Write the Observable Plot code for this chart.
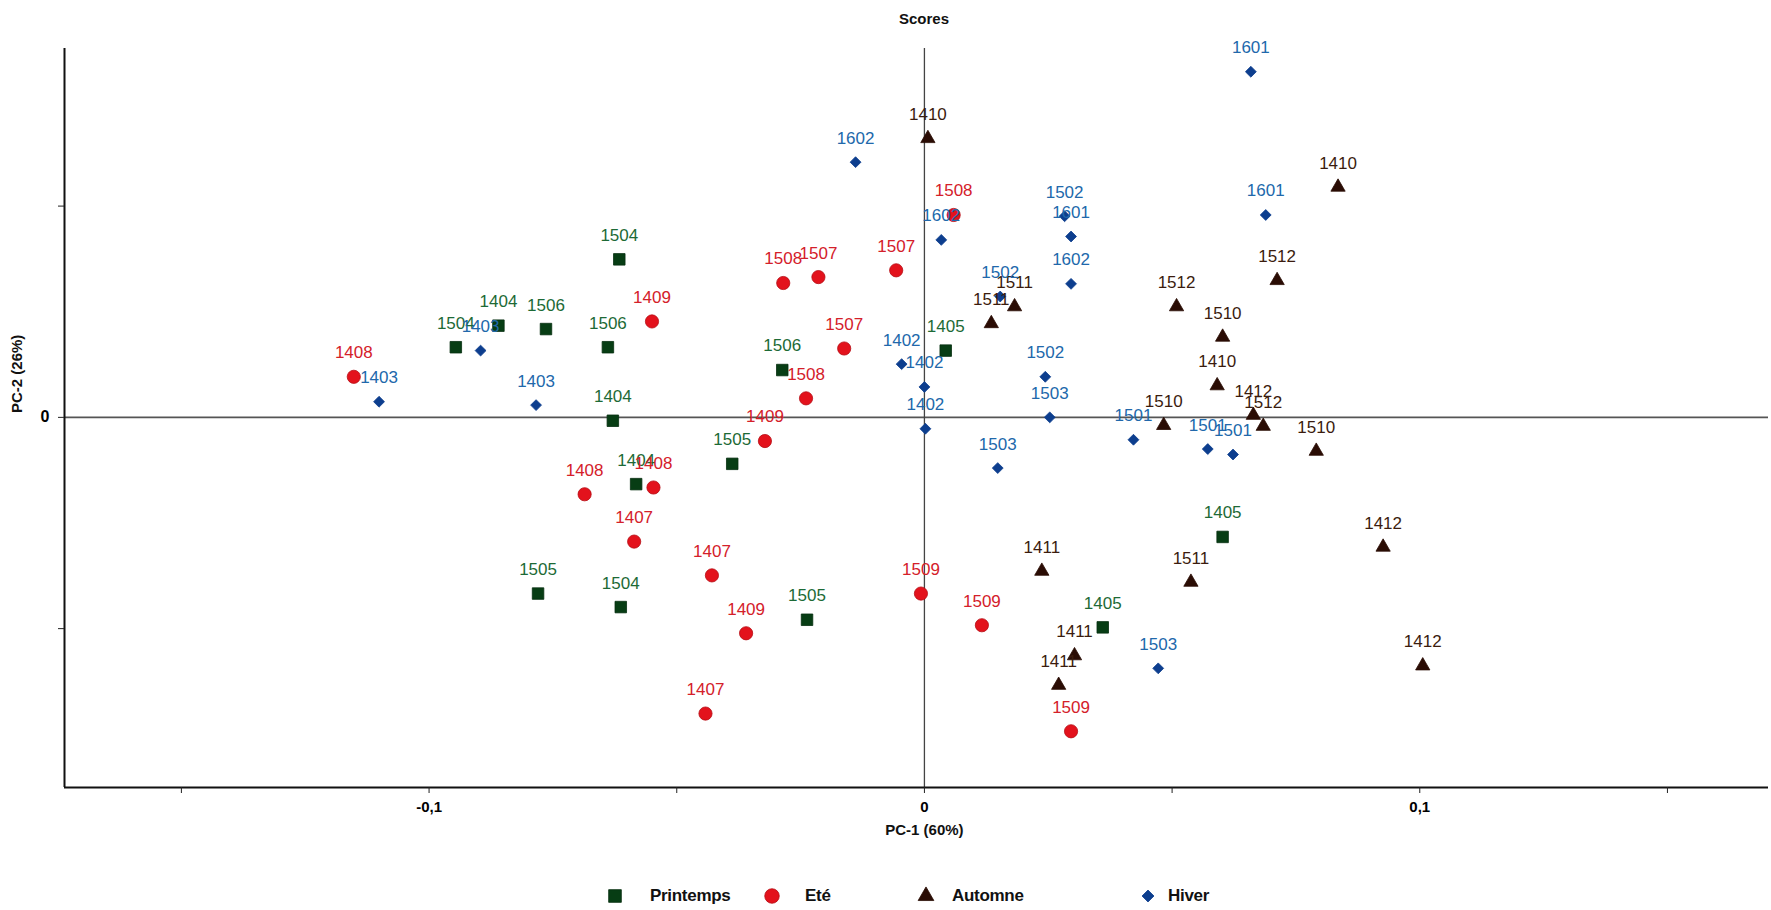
<!DOCTYPE html>
<html>
<head>
<meta charset="utf-8">
<script src="https://cdn.jsdelivr.net/npm/d3@7"></script>
<script src="https://cdn.jsdelivr.net/npm/@observablehq/plot@0.6"></script>
<style>
  body { margin: 0; background: #fff; font-family: "Liberation Sans", Arial, sans-serif; }
  #wrap { position: relative; width: 1771px; height: 910px; overflow: hidden; }
  #title { position: absolute; left: 824px; top: 0; width: 200px; height: 38px; line-height: 38px;
           text-align: center; font-weight: bold; font-size: 15px; color: #111; }
  #chart { position: absolute; left: 0; top: 38px; }
  .leg { position: absolute; font-size: 17px; font-weight: bold; color: #111; line-height: 20px; letter-spacing: -0.3px; }
  .sw { position: absolute; }
  #chart g[aria-label="x-axis tick label"] text,
  #chart g[aria-label="y-axis tick label"] text { font-weight: bold; }
</style>
</head>
<body>
<div id="wrap">
  <div id="title">Scores</div>
  <div id="chart"></div>
  <div id="legend"></div>
</div>
<script>
// ---- data ----
const seasons = ["Printemps", "Eté", "Automne", "Hiver"];

const printempsLabels = ["1504","1404","1506","1504","1506","1404","1404","1505","1504","1505","1506","1505","1405","1405","1405"];
const printempsX = [-0.0946,-0.0860,-0.0764,-0.0616,-0.0639,-0.0629,-0.0582,-0.0780,-0.0613,-0.0388,-0.0287,-0.0237,0.0043,0.0602,0.0360];
const printempsY = [0.0166,0.0217,0.0209,0.0374,0.0166,-0.0008,-0.0158,-0.0417,-0.0449,-0.0110,0.0112,-0.0479,0.0158,-0.0283,-0.0497];

const eteLabels = ["1407","1407","1407","1408","1408","1408","1409","1409","1409","1507","1507","1507","1508","1508","1508","1509","1509","1509"];
const eteX = [-0.0586,-0.0429,-0.0442,-0.1152,-0.0686,-0.0547,-0.0550,-0.0322,-0.0360,-0.0214,-0.0162,-0.0057,-0.0285,-0.0239,0.0059,-0.0007,0.0116,0.0296];
const eteY = [-0.0294,-0.0374,-0.0701,0.0096,-0.0182,-0.0166,0.0227,-0.0056,-0.0511,0.0332,0.0163,0.0348,0.0318,0.0045,0.0479,-0.0417,-0.0492,-0.0743];

const automneLabels = ["1410","1410","1410","1411","1411","1411","1412","1412","1412","1510","1510","1510","1511","1511","1511","1512","1512","1512"];
const automneX = [0.0007,0.0835,0.0591,0.0237,0.0303,0.0271,0.0926,0.1006,0.0664,0.0483,0.0602,0.0791,0.0135,0.0182,0.0538,0.0509,0.0712,0.0684];
const automneY = [0.0660,0.0545,0.0075,-0.0364,-0.0564,-0.0634,-0.0307,-0.0588,0.0005,-0.0019,0.0190,-0.0080,0.0222,0.0262,-0.0390,0.0262,0.0324,-0.0021];

const hiverLabels = ["1402","1402","1402","1403","1403","1403","1501","1501","1501","1502","1502","1502","1503","1503","1503","1601","1601","1601","1602","1602","1602"];
const hiverX = [-0.0046,0.0000,0.0002,-0.1101,-0.0784,-0.0896,0.0422,0.0572,0.0623,0.0283,0.0153,0.0244,0.0253,0.0148,0.0472,0.0659,0.0296,0.0689,-0.0139,0.0034,0.0296];
const hiverY = [0.0126,0.0072,-0.0027,0.0037,0.0029,0.0158,-0.0053,-0.0075,-0.0088,0.0476,0.0286,0.0096,0.0000,-0.0120,-0.0594,0.0818,0.0428,0.0479,0.0604,0.0420,0.0316];

const xTicks = [-0.15, -0.1, -0.05, 0, 0.05, 0.1, 0.15];
const xTickLabels = ["", "-0,1", "", "0", "", "0,1", ""];
const yTicks = [-0.05, 0, 0.05];
const yTickLabels = ["", "0", ""];
const xTitle = "PC-1 (60%)";
const yTitle = "PC-2 (26%)";

// ---- styles ----
const style = {
  "Printemps": {symbol: "square",   r: 6.5, fill: "#073d14", stroke: "#062e10", label: "#1d6a36"},
  "Eté":       {symbol: "circle",   r: 6.6, fill: "#e3121c", stroke: "#b50d14", label: "#d4202a"},
  "Automne":   {symbol: "triangle", r: 5.3, fill: "#2a0c04", stroke: "#2a0c04", label: "#3b1c0e"},
  "Hiver":     {symbol: "diamond2", r: 4.9, fill: "#0d3e8e", stroke: "#0d3e8e", label: "#2168ab"}
};

const build = (labels, xs, ys, season) => labels.map((l, i) => ({label: l, x: xs[i], y: ys[i], season}));
const groups = [
  build(printempsLabels, printempsX, printempsY, "Printemps"),
  build(eteLabels, eteX, eteY, "Eté"),
  build(automneLabels, automneX, automneY, "Automne"),
  build(hiverLabels, hiverX, hiverY, "Hiver")
];

const xDomain = [-0.1736, 0.1704];
const yDomain = [-0.0876, 0.0873];

const marks = [
  Plot.ruleY([0], {stroke: "#555", strokeWidth: 1.6}),
  Plot.ruleX([0], {stroke: "#444", strokeWidth: 1.3}),
  Plot.ruleX([xDomain[0]], {stroke: "#111", strokeWidth: 2}),
  Plot.ruleY([yDomain[0]], {stroke: "#111", strokeWidth: 2}),
  Plot.axisX({ticks: xTicks, tickFormat: d => xTickLabels[xTicks.indexOf(d)], tickSize: 6, tickPadding: 8,
              fontSize: 15, label: null, stroke: "#222"}),
  Plot.axisY({ticks: yTicks, tickFormat: d => yTickLabels[yTicks.indexOf(d)], tickSize: 6, tickPadding: 9,
              fontSize: 16, label: null, stroke: "#222"}),
  Plot.text([0], {x: d => d, frameAnchor: "bottom", dy: 47, text: () => xTitle, fontSize: 15, fontWeight: "bold", fill: "#111"}),
  Plot.text([yTitle], {frameAnchor: "left", dx: -47, dy: -5, rotate: -90, text: d => d, fontSize: 15, fontWeight: "bold", fill: "#111"})
];
groups.forEach(g => {
  const s = style[g[0].season];
  marks.push(Plot.dot(g, {x: "x", y: "y", symbol: () => s.symbol, r: s.r, fill: s.fill, stroke: s.stroke, strokeWidth: 0.8}));
});
groups.forEach(g => {
  const s = style[g[0].season];
  marks.push(Plot.text(g, {x: "x", y: "y", text: "label", dy: -24, fill: s.label, fontSize: 17}));
});

const chart = Plot.plot({
  width: 1771,
  height: 815,
  marginLeft: 64,
  marginRight: 3,
  marginTop: 10,
  marginBottom: 66,
  style: {fontFamily: "'Liberation Sans', Arial, sans-serif", background: "#fff"},
  x: {domain: xDomain},
  y: {domain: yDomain},
  symbol: {domain: ["square","circle","triangle","diamond2"], range: ["square","circle","triangle","diamond2"]},
  marks
});
document.getElementById("chart").appendChild(chart);

// ---- legend ----
const legendPos = [
  {cx: 615, tx: 650},
  {cx: 772, tx: 805},
  {cx: 926, tx: 952},
  {cx: 1148, tx: 1168}
];
const symMap = {square: d3.symbolSquare, circle: d3.symbolCircle, triangle: d3.symbolTriangle, diamond2: d3.symbolDiamond2};
const legend = document.getElementById("legend");
seasons.forEach((name, i) => {
  const s = style[name];
  const p = legendPos[i];
  const rr = s.r * 1.1;
  const size = Math.PI * rr * rr;
  const sv = d3.create("svg").attr("class", "sw").attr("width", 24).attr("height", 24)
    .style("left", (p.cx - 12) + "px").style("top", (896 - 12) + "px");
  sv.append("path").attr("transform", "translate(12,12)")
    .attr("d", d3.symbol(symMap[s.symbol], size)())
    .attr("fill", s.fill).attr("stroke", s.stroke).attr("stroke-width", 0.8);
  legend.appendChild(sv.node());
  const t = document.createElement("div");
  t.className = "leg";
  t.textContent = name;
  t.style.left = p.tx + "px";
  t.style.top = (896 - 10) + "px";
  legend.appendChild(t);
});
</script>
</body>
</html>
